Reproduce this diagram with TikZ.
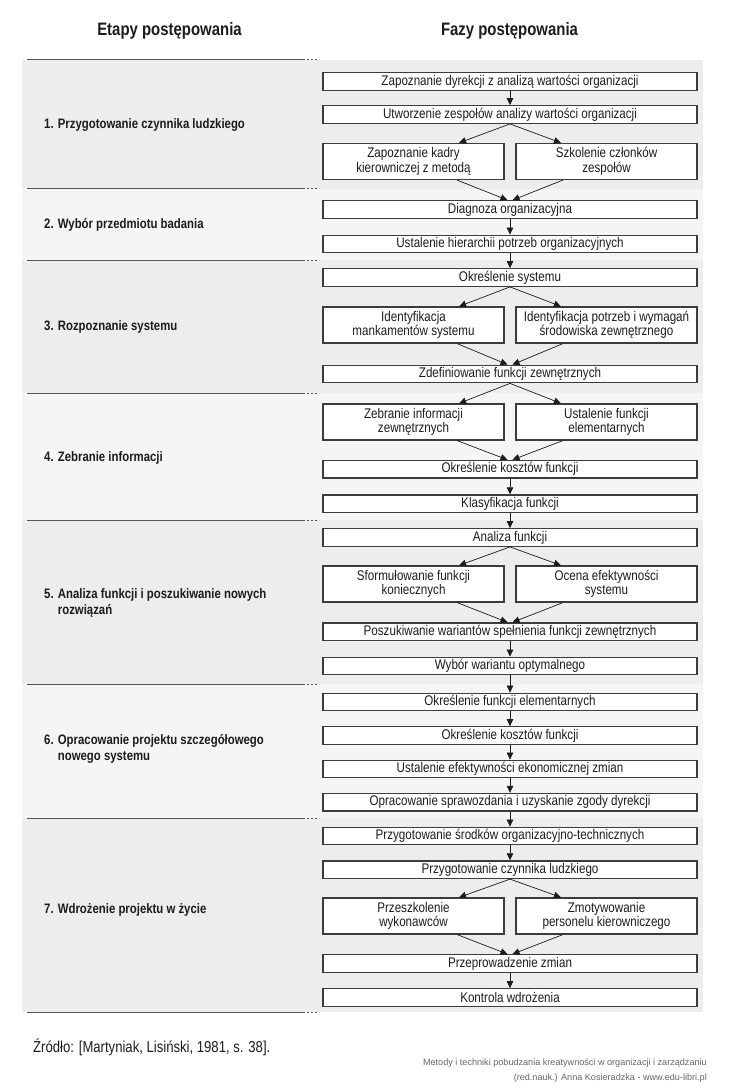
\documentclass[tikz,border=0pt]{standalone}
\usepackage{fontspec}
\setmainfont{Liberation Sans}[FakeStretch=0.83]
\newfontfamily\creditfont{Liberation Sans}
\usetikzlibrary{arrows.meta,calc}
\definecolor{banddark}{HTML}{EDEDED}
\definecolor{bandlight}{HTML}{F5F5F5}
\definecolor{boxline}{HTML}{3C3C3C}
\definecolor{txt}{HTML}{1C1C1C}
\definecolor{sepline}{HTML}{555555}
\definecolor{credit}{HTML}{666666}
\tikzset{
  single/.style={draw=boxline, line width=1.3pt, fill=white, minimum width=374pt, minimum height=17.5pt, inner sep=0pt, text=txt, font=\fontsize{14}{14.5}\selectfont},
  pairbox/.style={draw=boxline, line width=1.3pt, fill=white, minimum width=181pt, minimum height=36pt, inner sep=0pt, align=center, text=txt, font=\fontsize{14}{14.5}\selectfont},
  stage/.style={anchor=west, align=left, inner sep=0pt, text=txt, font=\bfseries\fontsize{13.7}{16.8}\selectfont},
  header/.style={inner sep=0pt, text=txt, font=\bfseries\fontsize{18}{20}\selectfont},
  arr/.style={draw=txt, line width=0.7pt, -{Triangle[length=7pt,width=6.5pt]}},
  sep/.style={draw=sepline, line width=1pt},
  sepdots/.style={draw=sepline, line width=1pt, dash pattern=on 2pt off 2pt},
}
\begin{document}
\begin{tikzpicture}[x=1pt,y=-1pt]
\useasboundingbox (0,0) rectangle (728,1091);
\fill[white] (0,0) rectangle (728,1091);
% bands
\fill[banddark]  (22,60)  rectangle (703,189);
\fill[bandlight] (22,189) rectangle (703,260);
\fill[banddark]  (22,260) rectangle (703,393);
\fill[bandlight] (22,393) rectangle (703,520);
\fill[banddark]  (22,520) rectangle (703,684);
\fill[bandlight] (22,684) rectangle (703,818);
\fill[banddark]  (22,818) rectangle (703,1012);
% separators
\foreach \yy in {60,189,260,393,520,684,818,1012}{
  \draw[sep] (27,\yy) -- (305,\yy);
  \draw[sepdots] (307,\yy) -- (319,\yy);
}
% headers
\node[header] (h1) at (169.5,31) {Etapy postępowania};
\node[header] (h2) at (509.5,31) {Fazy postępowania};
% stage labels
\node[stage] (s1) at (44,124.5) {1. Przygotowanie czynnika ludzkiego};
\node[stage] (s2) at (44,224.5) {2. Wybór przedmiotu badania};
\node[stage] (s3) at (44,326.5) {3. Rozpoznanie systemu};
\node[stage] (s4) at (44,458) {4. Zebranie informacji};
\node[stage] (s5) at (44,603) {5. Analiza funkcji i poszukiwanie nowych\\\phantom{5. }rozwiązań};
\node[stage] (s6) at (44,749) {6. Opracowanie projektu szczegółowego\\\phantom{6. }nowego systemu};
\node[stage] (s7) at (44,910) {7. Wdrożenie projektu w życie};
% section 1
\node[single] (a1) at (510,81.5) {Zapoznanie dyrekcji z analizą wartości organizacji};
\node[single] (a2) at (510,114.5) {Utworzenie zespołów analizy wartości organizacji};
\node[pairbox] (a3l) at (413.5,161.5) {Zapoznanie kadry\\kierowniczej z metodą};
\node[pairbox] (a3r) at (606.5,161.5) {Szkolenie członków\\zespołów};
% section 2
\node[single] (b1) at (510,209.5) {Diagnoza organizacyjna};
\node[single] (b2) at (510,244) {Ustalenie hierarchii potrzeb organizacyjnych};
% section 3
\node[single] (c1) at (510,277.5) {Określenie systemu};
\node[pairbox] (c2l) at (413.5,325) {Identyfikacja\\mankamentów systemu};
\node[pairbox] (c2r) at (606.5,325) {Identyfikacja potrzeb i wymagań\\środowiska zewnętrznego};
\node[single] (c3) at (510,374) {Zdefiniowanie funkcji zewnętrznych};
% section 4
\node[pairbox] (d1l) at (413.5,422) {Zebranie informacji\\zewnętrznych};
\node[pairbox] (d1r) at (606.5,422) {Ustalenie funkcji\\elementarnych};
\node[single] (d2) at (510,469.2) {Określenie kosztów funkcji};
\node[single] (d3) at (510,503.7) {Klasyfikacja funkcji};
% section 5
\node[single] (e1) at (510,537.5) {Analiza funkcji};
\node[pairbox] (e2l) at (413.5,584) {Sformułowanie funkcji\\koniecznych};
\node[pairbox] (e2r) at (606.5,584) {Ocena efektywności\\systemu};
\node[single] (e3) at (510,631.7) {Poszukiwanie wariantów spełnienia funkcji zewnętrznych};
\node[single] (e4) at (510,666) {Wybór wariantu optymalnego};
% section 6
\node[single] (f1) at (510,702) {Określenie funkcji elementarnych};
\node[single] (f2) at (510,735.5) {Określenie kosztów funkcji};
\node[single] (f3) at (510,769) {Ustalenie efektywności ekonomicznej zmian};
\node[single] (f4) at (510,802.2) {Opracowanie sprawozdania i uzyskanie zgody dyrekcji};
% section 7
\node[single] (g1) at (510,836) {Przygotowanie środków organizacyjno-technicznych};
\node[single] (g2) at (510,869.7) {Przygotowanie czynnika ludzkiego};
\node[pairbox] (g3l) at (413.5,916) {Przeszkolenie\\wykonawców};
\node[pairbox] (g3r) at (606.5,916) {Zmotywowanie\\personelu kierowniczego};
\node[single] (g4) at (510,963.5) {Przeprowadzenie zmian};
\node[single] (g5) at (510,997.5) {Kontrola wdrożenia};
% arrows
\draw[arr] (a1.south) -- (a2.north);
\draw[arr] (a2.south) -- ($(a3l.north east)!0.25!(a3l.north west)$);
\draw[arr] (a2.south) -- ($(a3r.north west)!0.25!(a3r.north east)$);
\draw[arr] ($(a3l.south east)!0.26!(a3l.south west)$) -- ($(b1.north)+(-2.5,0)$);
\draw[arr] ($(a3r.south west)!0.26!(a3r.south east)$) -- ($(b1.north)+(2.5,0)$);
\draw[arr] (b1.south) -- (b2.north);
\draw[arr] (b2.south) -- (c1.north);
\draw[arr] (c1.south) -- ($(c2l.north east)!0.25!(c2l.north west)$);
\draw[arr] (c1.south) -- ($(c2r.north west)!0.25!(c2r.north east)$);
\draw[arr] ($(c2l.south east)!0.26!(c2l.south west)$) -- ($(c3.north)+(-2.5,0)$);
\draw[arr] ($(c2r.south west)!0.26!(c2r.south east)$) -- ($(c3.north)+(2.5,0)$);
\draw[arr] (c3.south) -- ($(d1l.north east)!0.25!(d1l.north west)$);
\draw[arr] (c3.south) -- ($(d1r.north west)!0.25!(d1r.north east)$);
\draw[arr] ($(d1l.south east)!0.26!(d1l.south west)$) -- ($(d2.north)+(-2.5,0)$);
\draw[arr] ($(d1r.south west)!0.26!(d1r.south east)$) -- ($(d2.north)+(2.5,0)$);
\draw[arr] (d2.south) -- (d3.north);
\draw[arr] (d3.south) -- (e1.north);
\draw[arr] (e1.south) -- ($(e2l.north east)!0.25!(e2l.north west)$);
\draw[arr] (e1.south) -- ($(e2r.north west)!0.25!(e2r.north east)$);
\draw[arr] ($(e2l.south east)!0.26!(e2l.south west)$) -- ($(e3.north)+(-2.5,0)$);
\draw[arr] ($(e2r.south west)!0.26!(e2r.south east)$) -- ($(e3.north)+(2.5,0)$);
\draw[arr] (e3.south) -- (e4.north);
\draw[arr] (e4.south) -- (f1.north);
\draw[arr] (f1.south) -- (f2.north);
\draw[arr] (f2.south) -- (f3.north);
\draw[arr] (f3.south) -- (f4.north);
\draw[arr] (f4.south) -- (g1.north);
\draw[arr] (g1.south) -- (g2.north);
\draw[arr] (g2.south) -- ($(g3l.north east)!0.25!(g3l.north west)$);
\draw[arr] (g2.south) -- ($(g3r.north west)!0.25!(g3r.north east)$);
\draw[arr] ($(g3l.south east)!0.26!(g3l.south west)$) -- ($(g4.north)+(-2.5,0)$);
\draw[arr] ($(g3r.south west)!0.26!(g3r.south east)$) -- ($(g4.north)+(2.5,0)$);
\draw[arr] (g4.south) -- (g5.north);
% footer
\node[anchor=west, inner sep=0pt, text=txt, font=\fontsize{15.8}{17}\selectfont] (src) at (33,1047) {Źródło: [Martyniak, Lisiński, 1981, s. 38].};
\node[anchor=east, inner sep=0pt, text=credit, font=\creditfont\fontsize{9.1}{10}\selectfont] (cr1) at (707,1063) {Metody i techniki pobudzania kreatywności w organizacji i zarządzaniu};
\node[anchor=east, inner sep=0pt, text=credit, font=\creditfont\fontsize{9.1}{10}\selectfont] (cr2) at (707,1078) {(red.nauk.) Anna Kosieradzka - www.edu-libri.pl};
\end{tikzpicture}
\end{document}
